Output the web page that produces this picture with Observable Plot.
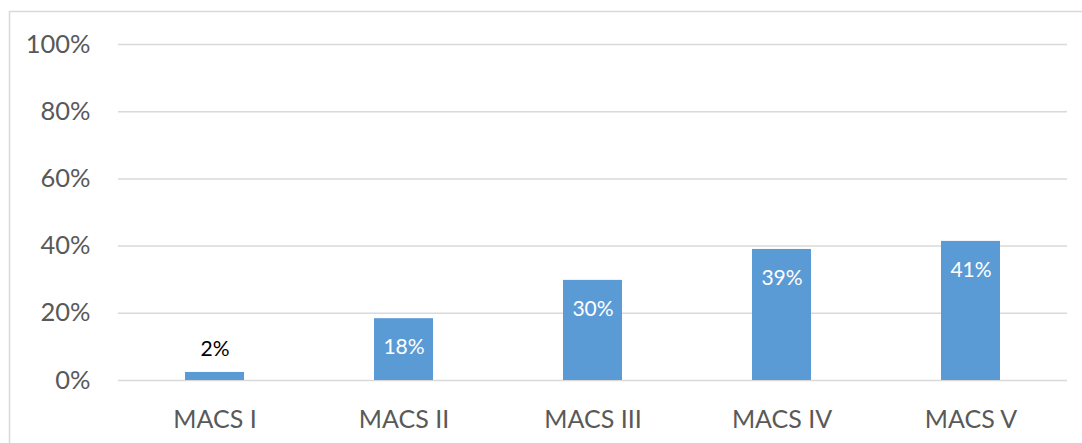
<!DOCTYPE html>
<html>
<head>
<meta charset="utf-8">
<script src="https://cdn.jsdelivr.net/npm/d3@7"></script>
<script src="https://cdn.jsdelivr.net/npm/@observablehq/plot@0.6"></script>
<style>
  html, body { margin: 0; padding: 0; background: #fff; }
  #chart { width: 1082px; height: 443px; overflow: hidden; }
</style>
</head>
<body>
<div id="chart"></div>
<script>
const categories = ["MACS I", "MACS II", "MACS III", "MACS IV", "MACS V"];
const values = [2.4, 18.4, 29.8, 39.0, 41.4];
const labels = ["2%", "18%", "30%", "39%", "41%"];
const yTicks = [0, 20, 40, 60, 80, 100];

const data = categories.map((c, i) => ({cat: c, v: values[i], label: labels[i]}));
const inside = data.filter(d => d.v >= 10);
const outside = data.filter(d => d.v < 10);

const plot = Plot.plot({
  width: 1082,
  height: 443,
  marginLeft: 118,
  marginRight: 15,
  marginTop: 44,
  marginBottom: 63,
  style: {fontFamily: "Lato, sans-serif", background: "#fff", overflow: "visible"},
  x: {domain: categories, paddingInner: 0.69, paddingOuter: 0.345, label: null},
  y: {domain: [0, 100], label: null},
  marks: [
    Plot.gridY(yTicks, {stroke: "#d9d9d9", strokeOpacity: 1, strokeWidth: 1.5}),
    Plot.axisY(yTicks, {tickSize: 0, tickPadding: 28, tickFormat: d => d + "%", fontSize: 25.5, fill: "#595959", label: null}),
    Plot.axisX({tickSize: 0, tickPadding: 30, fontSize: 25, fill: "#595959", label: null}),
    Plot.barY(data, {x: "cat", y: "v", fill: "#5b9bd5"}),
    Plot.text(inside, {x: "cat", y: "v", text: "label", dy: 29, fill: "#ffffff", fontSize: 21}),
    Plot.text(outside, {x: "cat", y: "v", text: "label", dy: -23, fill: "#000000", fontSize: 21})
  ]
});

d3.select(plot).append("rect")
  .attr("x", 9.5).attr("y", 11.5)
  .attr("width", 1100).attr("height", 460)
  .attr("fill", "none").attr("stroke", "#d9d9d9").attr("stroke-width", 1.5);

document.getElementById("chart").appendChild(plot);
</script>
</body>
</html>
